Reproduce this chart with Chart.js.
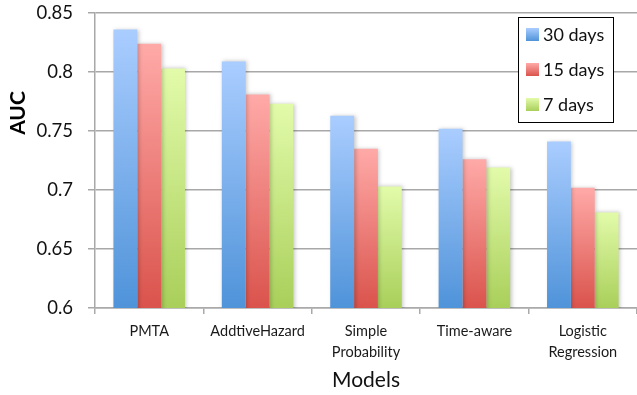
<!DOCTYPE html>
<html>
<head>
<meta charset="utf-8">
<script src="https://cdn.jsdelivr.net/npm/chart.js@4.4.1/dist/chart.umd.min.js"></script>
<style>
  html, body { margin: 0; padding: 0; background: #ffffff; }
  canvas { display: block; }
</style>
</head>
<body>
<canvas id="auc" width="637" height="395"></canvas>
<script>
// Models compared on the x axis (multi-line names as arrays)
const models = ['PMTA', 'AddtiveHazard', ['Simple', 'Probability'], 'Time-aware', ['Logistic', 'Regression']];

// AUC per prediction window
const auc30days = [0.836, 0.809, 0.763, 0.752, 0.741];
const auc15days = [0.824, 0.781, 0.735, 0.726, 0.702];
const auc7days  = [0.803, 0.773, 0.703, 0.719, 0.681];

const seriesNames = ['30 days', '15 days', '7 days'];
const yTickLabels = ['0.6', '0.65', '0.7', '0.75', '0.8', '0.85'];

// Light-to-dark fill for each series (top, bottom)
const palette = [
  { top: '#aacdff', bottom: '#4f93d9' },
  { top: '#ffaaa8', bottom: '#da534c' },
  { top: '#e2fbaa', bottom: '#a9cf5a' }
];

const FONT = 'Lato, "Open Sans", "Liberation Sans", sans-serif';
Chart.defaults.font.family = FONT;
Chart.defaults.color = '#1a1a1a';

// Each bar gets its own vertical gradient from its top down to the baseline
function barFill(idx) {
  return (ctx) => {
    const chart = ctx.chart;
    if (!chart.chartArea || ctx.type !== 'data') return palette[idx].bottom;
    const ys = chart.scales.y;
    const yTop = ys.getPixelForValue(ctx.raw);
    const yBase = ys.getPixelForValue(ys.min);
    const g = chart.ctx.createLinearGradient(0, yTop, 0, yBase);
    g.addColorStop(0, palette[idx].top);
    g.addColorStop(1, palette[idx].bottom);
    return g;
  };
}

// Soft shadow behind the bars
const barShadow = {
  id: 'barShadow',
  beforeDatasetsDraw(chart) {
    const c = chart.ctx;
    c.save();
    c.shadowColor = 'rgba(0,0,0,0.22)';
    c.shadowBlur = 4;
    c.shadowOffsetX = 1.5;
    c.shadowOffsetY = 0;
  },
  afterDatasetsDraw(chart) {
    chart.ctx.restore();
  }
};

// Rotated bold y-axis caption
const yCaption = {
  id: 'yCaption',
  afterDraw(chart) {
    const { ctx, chartArea } = chart;
    ctx.save();
    ctx.translate(18, chartArea.top + 100);
    ctx.rotate(-Math.PI / 2);
    ctx.font = 'bold 21px ' + FONT;
    ctx.fillStyle = '#000000';
    ctx.textAlign = 'center';
    ctx.textBaseline = 'middle';
    ctx.fillText('AUC', 0, 0);
    ctx.restore();
  }
};

// Framed legend in the upper right of the plot
const boxLegend = {
  id: 'boxLegend',
  afterDraw(chart) {
    const { ctx, chartArea } = chart;
    const x = chartArea.right - 119;
    const y = chartArea.top + 4;
    const w = 95, h = 105;
    ctx.save();
    ctx.fillStyle = '#ffffff';
    ctx.fillRect(x, y, w, h);
    ctx.strokeStyle = '#000000';
    ctx.lineWidth = 1;
    ctx.strokeRect(x + 0.5, y + 0.5, w, h);
    chart.data.datasets.forEach((ds, i) => {
      const sy = y + 11 + i * 35;
      const g = ctx.createLinearGradient(0, sy, 0, sy + 13);
      g.addColorStop(0, palette[i].top);
      g.addColorStop(1, palette[i].bottom);
      ctx.fillStyle = g;
      ctx.fillRect(x + 8, sy, 13, 13);
      ctx.fillStyle = '#111111';
      ctx.font = '18px ' + FONT;
      ctx.textAlign = 'left';
      ctx.textBaseline = 'middle';
      ctx.fillText(ds.label, x + 25, sy + 7);
    });
    ctx.restore();
  }
};

const seriesValues = [auc30days, auc15days, auc7days];

new Chart(document.getElementById('auc'), {
  type: 'bar',
  data: {
    labels: models,
    datasets: seriesValues.map((vals, i) => ({
      label: seriesNames[i],
      data: vals,
      backgroundColor: barFill(i),
      borderWidth: 0,
      categoryPercentage: 0.66,
      barPercentage: 1.0
    }))
  },
  options: {
    responsive: false,
    animation: false,
    devicePixelRatio: 1,
    layout: { padding: { top: 0, right: 0, bottom: 0, left: 0 } },
    plugins: {
      legend: { display: false },
      tooltip: { enabled: false }
    },
    scales: {
      x: {
        grid: {
          drawOnChartArea: false,
          drawTicks: true,
          tickLength: 6,
          color: '#aaaaaa',
          lineWidth: 1.5,
          offset: true
        },
        border: { display: true, color: '#aaaaaa', width: 1.5 },
        ticks: {
          font: { size: 14.5, lineHeight: 1.45 },
          color: '#1a1a1a',
          padding: 7,
          maxRotation: 0,
          autoSkip: false
        },
        title: {
          display: true,
          text: 'Models',
          font: { size: 21 },
          color: '#111111',
          padding: { top: 0, bottom: 2 }
        },
        afterFit(scale) { scale.height = 87; }
      },
      y: {
        min: 0.6,
        max: 0.85,
        afterBuildTicks(scale) {
          scale.ticks = yTickLabels.map(t => ({ value: parseFloat(t) }));
        },
        ticks: {
          callback: (value, index) => yTickLabels[index],
          font: { size: 18.5 },
          color: '#111111',
          padding: 15
        },
        grid: {
          color: '#a8a8a8',
          lineWidth: 1.5,
          tickLength: 7,
          drawTicks: true
        },
        border: { display: true, color: '#a8a8a8', width: 1.5 },
        afterFit(scale) {
          scale.width = 95;
          scale.paddingTop = 13;
        }
      }
    }
  },
  plugins: [barShadow, yCaption, boxLegend]
});
</script>
</body>
</html>
